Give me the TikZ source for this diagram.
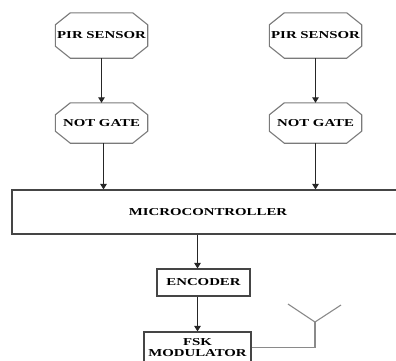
\documentclass[tikz,border=0pt]{standalone}
\usepackage{fontspec}
\setmainfont[FakeStretch=1.4]{Liberation Serif}
\usetikzlibrary{arrows.meta}
\definecolor{boxline}{HTML}{454545}
\definecolor{octline}{HTML}{7A7A7A}
\definecolor{antline}{HTML}{8A8A8A}
\begin{document}
\begin{tikzpicture}[x=1pt,y=-1pt,
  every node/.style={font=\fontsize{10.6}{11.5}\selectfont\bfseries, text=black, inner sep=0pt},
  octa/.style={rectangle, minimum width=92pt},
  octaline/.style={draw=octline, line width=1.1pt, line join=miter},
  blockbox/.style={rectangle, draw=boxline, line width=1.2pt},
  arr/.style={draw=black!85, line width=1.2pt, -{Triangle[width=6.5pt,length=5.5pt]}},
  antenna/.style={draw=antline, line width=1.1pt}]
\useasboundingbox (0,0) rectangle (396,360);
\node[octa, minimum height=45pt] (pir1) at (101.5,35.5) {PIR SENSOR};
\node[octa, minimum height=45pt] (pir2) at (315.5,35.5) {PIR SENSOR};
\node[octa, minimum height=40pt] (not1) at (101.5,123) {NOT GATE};
\node[octa, minimum height=40pt] (not2) at (315.5,123) {NOT GATE};
\foreach \n in {pir1,pir2,not1,not2}
  \draw[octaline]
      ([xshift=15pt]\n.north west) -- ([xshift=-15pt]\n.north east)
      -- ([yshift=-12pt]\n.north east) -- ([yshift=12pt]\n.south east)
      -- ([xshift=-15pt]\n.south east) -- ([xshift=15pt]\n.south west)
      -- ([yshift=12pt]\n.south west) -- ([yshift=-12pt]\n.north west) -- cycle;
\node[blockbox, minimum width=392pt, minimum height=44pt] (micro) at (208,212) {MICROCONTROLLER};
\node[blockbox, minimum width=93pt, minimum height=27pt] (enc) at (203.5,282.5) {ENCODER};
\node[blockbox, minimum width=107pt, minimum height=31pt, align=center] (fsk) at (197.5,347.5) {FSK\\MODULATOR};
\coordinate (ant) at (315,322);
\coordinate (antl) at (288,304);
\coordinate (antr) at (341,305);
\draw[arr] (pir1) -- (not1);
\draw[arr] (pir2) -- (not2);
\draw[arr] (not1.south) ++(2,0) coordinate (n1s) -- (n1s |- micro.north);
\draw[arr] (not2.south) -- (not2.south |- micro.north);
\draw[arr] (micro.south -| fsk.north) -- (enc.north -| fsk.north);
\draw[arr] (enc.south -| fsk.north) -- (fsk.north);
\draw[antenna] (fsk.east) -| (ant);
\draw[antenna] (antl) -- (ant) -- (antr);
\end{tikzpicture}
\end{document}
